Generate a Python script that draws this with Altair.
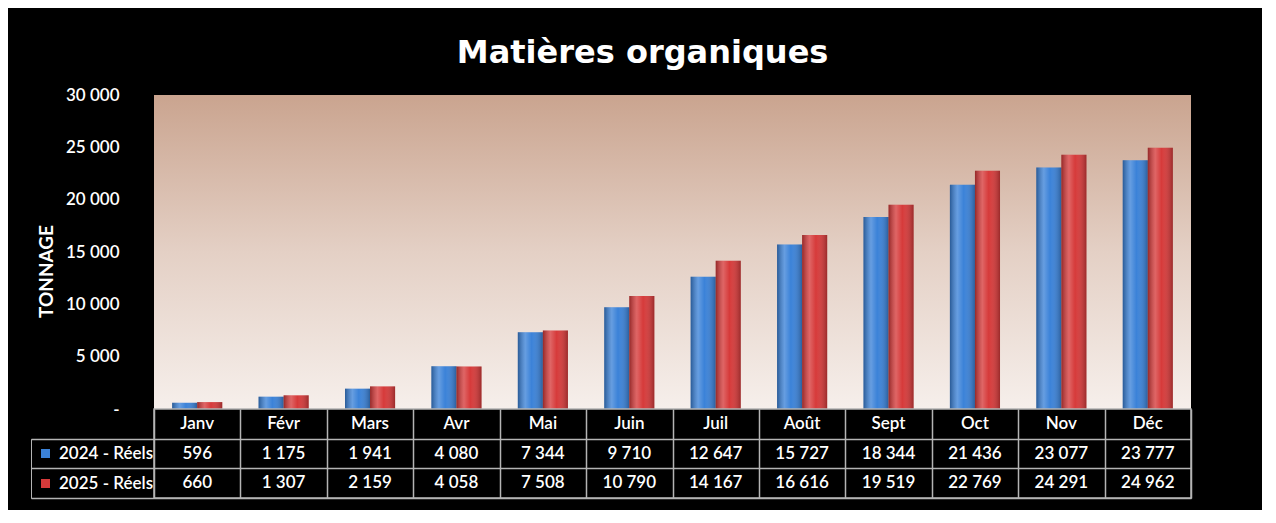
import altair as alt
import pandas as pd

months = ["Janv", "Févr", "Mars", "Avr", "Mai", "Juin", "Juil", "Août", "Sept", "Oct", "Nov", "Déc"]
series = ["2024 - Réels", "2025 - Réels"]
v2024 = [596, 1175, 1941, 4080, 7344, 9710, 12647, 15727, 18344, 21436, 23077, 23777]
v2025 = [660, 1307, 2159, 4058, 7508, 10790, 14167, 16616, 19519, 22769, 24291, 24962]
y_ticks = [0, 5000, 10000, 15000, 20000, 25000, 30000]
row_order = ["Mois"] + series
colors = ["#3b82d8", "#d63a3a"]

rows = []
for m, a, b in zip(months, v2024, v2025):
    rows.append({"mois": m, "serie": series[0], "valeur": a})
    rows.append({"mois": m, "serie": series[1], "valeur": b})
df = pd.DataFrame(rows)
header_df = pd.DataFrame({"mois": months, "ligne": ["Mois"] * len(months), "texte": months})
bg_df = pd.DataFrame({"valeur": [y_ticks[0]], "haut": [y_ticks[-1]]})

FONT = "Lato"
GRID = "#b4b4b4"
PLOT_W, PLOT_H, TABLE_H = 1037, 314, 89
fmt_val = "replace(format(datum.valeur, ','), regexp(',', 'g'), ' ')"
y_label_expr = "datum.value == 0 ? '-' : replace(format(datum.value, ','), regexp(',', 'g'), ' ')"

bg_grad = alt.LinearGradient(
    gradient="linear",
    stops=[
        alt.GradientStop(color="#caa48f", offset=0),
        alt.GradientStop(color="#e4d0c5", offset=0.5),
        alt.GradientStop(color="#f6efeb", offset=1),
    ],
    x1=0, x2=0, y1=0, y2=1,
)
shade_grad = alt.LinearGradient(
    gradient="linear",
    stops=[
        alt.GradientStop(color="rgba(0,0,0,0.30)", offset=0),
        alt.GradientStop(color="rgba(255,255,255,0.22)", offset=0.3),
        alt.GradientStop(color="rgba(255,255,255,0.0)", offset=0.55),
        alt.GradientStop(color="rgba(0,0,0,0.28)", offset=1),
    ],
    x1=0, x2=1, y1=0, y2=0,
)

y_enc = alt.Y("valeur:Q",
              scale=alt.Scale(domain=[0, 30000], nice=False),
              axis=alt.Axis(values=y_ticks, labelExpr=y_label_expr, title="TONNAGE",
                            grid=False, domain=False, ticks=False, tickSize=0,
                            labelPadding=35, labelColor="white", labelFont=FONT,
                            labelFontSize=17, labelFontWeight=600,
                            titleColor="white", titleFont=FONT, titleFontSize=19,
                            titleFontWeight="bold", titleX=-98, titleY=176,
                            titleAngle=270))

bg = alt.Chart(bg_df).mark_rect(fill=bg_grad).encode(y=y_enc, y2="haut:Q")

base = alt.Chart(df).encode(
    x=alt.X("mois:N", sort=months,
            scale=alt.Scale(paddingInner=0.42, paddingOuter=0.21), axis=None),
    xOffset=alt.XOffset("serie:N", sort=series),
    y=y_enc,
)
bars = base.mark_bar().encode(
    color=alt.Color("serie:N", sort=series,
                    scale=alt.Scale(domain=series, range=colors),
                    legend=alt.Legend(orient="none", legendX=-123, legendY=344,
                                      title=None, symbolType="square", symbolSize=81,
                                      symbolStrokeWidth=0, labelColor="white",
                                      labelFont=FONT, labelFontSize=17,
                                      labelFontWeight=600, labelOffset=5,
                                      rowPadding=12, padding=6, strokeColor=GRID,
                                      direction="vertical"))
)
shade = base.mark_bar(fill=shade_grad)

bar_chart = alt.layer(bg, bars, shade).properties(
    width=PLOT_W, height=PLOT_H,
    view=alt.ViewBackground(strokeWidth=0),
)

tx = alt.X("mois:N", sort=months, scale=alt.Scale(paddingInner=0, paddingOuter=0),
           axis=alt.Axis(labels=False, ticks=False, domain=False, grid=True,
                         tickBand="extent", gridColor=GRID, gridWidth=1.5, title=None))
ty = alt.Y("ligne:N", sort=row_order,
           scale=alt.Scale(domain=row_order, paddingInner=0, paddingOuter=0),
           axis=alt.Axis(labels=False, domain=False, ticks=True, tickSize=123,
                         tickOffset=TABLE_H / 6, grid=True, gridColor=GRID,
                         gridWidth=1.5, tickColor=GRID, tickWidth=1.5, title=None))

head_text = alt.Chart(header_df).mark_text(
    color="white", font=FONT, fontSize=17, fontWeight=600
).encode(x=tx, y=ty, text="texte:N")

val_text = alt.Chart(df).transform_calculate(
    texte=fmt_val, ligne="datum.serie"
).mark_text(color="white", font=FONT, fontSize=17, fontWeight=600).encode(
    x=tx, y=ty, text="texte:N"
)

table_chart = alt.layer(head_text, val_text).properties(
    width=PLOT_W, height=TABLE_H,
    view=alt.ViewBackground(fill="black", stroke=GRID, strokeWidth=1.5),
)

chart = alt.vconcat(bar_chart, table_chart, spacing=0, bounds="flush").resolve_scale(
    x="independent", y="independent"
).resolve_legend(color="independent").properties(
    title=alt.Title("Matières organiques", font="DejaVu Sans", fontSize=32,
                    fontWeight="bold", color="white", anchor="middle", offset=16,
                    dx=32),
    background="black",
    padding={"left": 21, "top": 29, "right": 70, "bottom": 10},
)

chart.save("out.html", embed_options={"renderer": "svg", "actions": False})
